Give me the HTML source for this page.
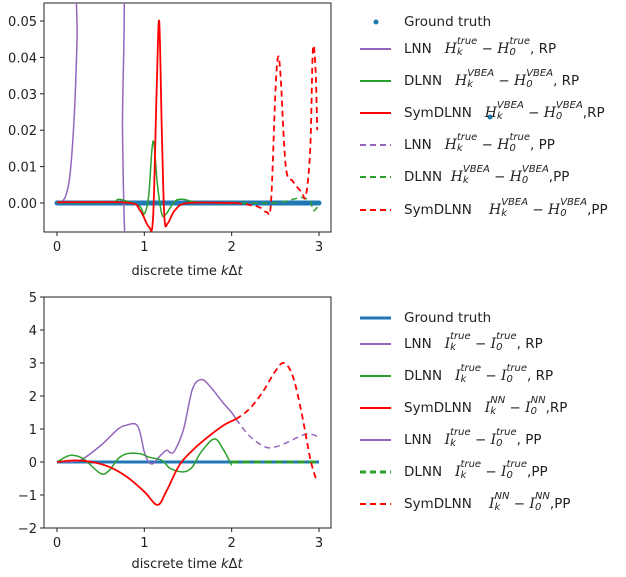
<!DOCTYPE html>
<html><head><meta charset="utf-8"><style>
body{margin:0;background:#fff;width:626px;height:572px;overflow:hidden;font-family:"Liberation Sans","DejaVu Sans",sans-serif}
svg text{font-family:"DejaVu Sans","Liberation Sans",sans-serif;font-size:13px;fill:#222}
.leg{position:absolute;font-family:"DejaVu Sans","Liberation Sans",sans-serif;font-size:13.5px;color:#222;white-space:nowrap;line-height:18px}
.leg i{font-family:"DejaVu Serif","Liberation Serif",serif;font-style:italic;font-size:14px}
.ss{display:inline-flex;flex-direction:column;vertical-align:middle;line-height:11px;font-size:10px;font-style:italic;font-family:"DejaVu Sans",sans-serif;margin-top:-4px}
.ss span{display:block}
</style></head><body>
<svg id="c" width="626" height="572"></svg>
<script>
const tickXLabels=["0","1","2","3"];
const topTickY=[0,0.01,0.02,0.03,0.04,0.05];
const topTickLabels=["0.00","0.01","0.02","0.03","0.04","0.05"];
const botTickY=[-2,-1,0,1,2,3,4,5];
const gtX=[0,3];
const gtY=[0,0];
// top chart series
const tLnnRpX=[0,0.05,0.1,0.15,0.2,0.23,0.26,0.73,0.75,0.77,0.79];
const tLnnRpY=[0,0.0003,0.002,0.008,0.025,0.045,0.07,0.07,0.02,-0.005,-0.012];
const tDlnnRpX=[0,0.6,0.7,0.8,0.95,1.0,1.05,1.1,1.15,1.2,1.25,1.35,1.45,1.6,2.0];
const tDlnnRpY=[0.0001,0.0002,0.001,0.0005,-0.001,-0.003,0.002,0.017,0.005,-0.003,-0.003,0.0005,0.001,0.0002,0];
const tSymRpX=[0,0.8,0.95,1.05,1.1,1.14,1.17,1.2,1.23,1.27,1.35,1.5,2.05];
const tSymRpY=[0.0002,0.0001,-0.002,-0.0065,-0.004,0.03,0.05,0.02,-0.004,-0.0055,-0.002,0,0];
const tSymPpX=[2.05,2.3,2.4,2.45,2.5,2.53,2.56,2.62,2.7,2.8,2.85,2.9,2.93,2.96,2.98];
const tSymPpY=[0,-0.001,-0.0025,0,0.03,0.04,0.035,0.01,0.006,0.003,0.002,0.015,0.042,0.037,0.02];
const tDlnnPpX=[2.0,2.5,2.7,2.8,2.9,2.93,2.97,3.0];
const tDlnnPpY=[0,0,0.001,0.0015,0.0005,-0.002,-0.0015,0];
// bottom chart series
const bLnnRpX=[0,0.2,0.3,0.5,0.7,0.8,0.9,0.95,1.0,1.05,1.1,1.15,1.25,1.3,1.35,1.45,1.55,1.65,1.75,1.9,2.0,2.05];
const bLnnRpY=[0,0.02,0.1,0.5,1.0,1.12,1.15,0.9,0.3,0,-0.05,0.1,0.35,0.28,0.35,1.0,2.2,2.5,2.3,1.8,1.5,1.3];
const bLnnPpX=[2.05,2.2,2.35,2.45,2.6,2.8,2.9,3.0];
const bLnnPpY=[1.3,0.8,0.5,0.43,0.55,0.8,0.85,0.75];
const bDlnnRpX=[0,0.15,0.3,0.5,0.6,0.7,0.8,0.95,1.05,1.2,1.3,1.45,1.55,1.65,1.8,1.9,2.0];
const bDlnnRpY=[0,0.2,0.1,-0.35,-0.25,0.1,0.25,0.25,0.15,0.05,-0.2,-0.3,-0.15,0.3,0.7,0.4,-0.1];
const bDlnnPpX=[2.0,3.0];
const bDlnnPpY=[0,0];
const bSymRpX=[0,0.2,0.4,0.6,0.8,1.0,1.15,1.25,1.4,1.55,1.7,1.9,2.05];
const bSymRpY=[0,0.05,0,-0.15,-0.45,-0.9,-1.3,-0.9,-0.1,0.35,0.7,1.1,1.3];
const bSymPpX=[2.05,2.2,2.35,2.5,2.6,2.7,2.8,2.9,2.97];
const bSymPpY=[1.3,1.6,2.1,2.75,3.0,2.6,1.5,0.1,-0.55];

const NS="http://www.w3.org/2000/svg";
const svg=document.getElementById('c');
function mk(t,a,p){const e=document.createElementNS(NS,t);for(const k in a)e.setAttribute(k,a[k]);(p||svg).appendChild(e);return e;}
const X=v=>57+v*87.33;
const Ty=v=>203-v*3640;
const By=v=>462-v*33;
const defs=mk('defs',{});
const c1=mk('clipPath',{id:'c1'},defs);mk('rect',{x:44,y:3,width:287,height:229},c1);
const c2=mk('clipPath',{id:'c2'},defs);mk('rect',{x:44,y:297,width:287,height:231},c2);
function axes(top,bot,yf,ticks,labels,name){
  const r=mk('rect',{x:44,y:top,width:287,height:bot-top,fill:'none',stroke:'#222','stroke-width':1});
  
  tickXLabels.forEach((l,i)=>{const x=X(i);mk('line',{x1:x,x2:x,y1:bot,y2:bot+4,stroke:'#222'});
    const t=mk('text',{x:x,y:bot+19,'text-anchor':'middle'});t.textContent=l;
    });
  ticks.forEach((v,i)=>{const y=yf(v);mk('line',{x1:40,x2:44,y1:y,y2:y,stroke:'#222'});
    const t=mk('text',{x:37,y:y+5,'text-anchor':'end'});t.textContent=labels[i];
    });
}
axes(3,232,Ty,topTickY,topTickLabels,'top');
axes(297,528,By,botTickY,botTickY.map(v=>v<0?'\u2212'+(-v):String(v)),'bottom');
function smooth(pts){
  if(pts.length<3)return 'M'+pts.map(p=>p.join(',')).join(' L');
  let d='M'+pts[0][0]+','+pts[0][1];
  for(let i=0;i<pts.length-1;i++){
    const p0=pts[i-1]||pts[i],p1=pts[i],p2=pts[i+1],p3=pts[i+2]||p2;
    const c1x=p1[0]+(p2[0]-p0[0])/6,c1y=p1[1]+(p2[1]-p0[1])/6;
    const c2x=p2[0]-(p3[0]-p1[0])/6,c2y=p2[1]-(p3[1]-p1[1])/6;
    d+=' C'+c1x+','+c1y+' '+c2x+','+c2y+' '+p2[0]+','+p2[1];
  }
  return d;
}
function line(xs,ys,yf,col,dash,w,clip,name){
  const pts=xs.map((x,i)=>[X(x),yf(ys[i])]);
  const p=mk('path',{d:smooth(pts),fill:'none',stroke:col,'stroke-width':w,'stroke-dasharray':dash||'none','clip-path':'url(#'+clip+')','stroke-linejoin':'round'});
  
}
const gt=mk('line',{x1:X(gtX[0]),x2:X(gtX[1]),y1:Ty(gtY[0]),y2:Ty(gtY[1]),stroke:'#1f77b4','stroke-width':5,'stroke-linecap':'round'});

line(tLnnRpX,tLnnRpY,Ty,'#9467bd',null,1.5,'c1','top-lnn-rp');
line(tDlnnRpX,tDlnnRpY,Ty,'#2ca02c',null,1.5,'c1','top-dlnn-rp');
line(tDlnnPpX,tDlnnPpY,Ty,'#2ca02c','6,4',1.5,'c1','top-dlnn-pp');
line(tSymRpX,tSymRpY,Ty,'#ff0000',null,1.8,'c1','top-symdlnn-rp');
line(tSymPpX,tSymPpY,Ty,'#ff0000','6,4',1.8,'c1','top-symdlnn-pp');
line(gtX,gtY,By,'#1f77b4',null,3,'c2','bottom-ground-truth');
line(bLnnRpX,bLnnRpY,By,'#9467bd',null,1.5,'c2','bottom-lnn-rp');
line(bLnnPpX,bLnnPpY,By,'#9467bd','6,4',1.5,'c2','bottom-lnn-pp');
line(bDlnnRpX,bDlnnRpY,By,'#2ca02c',null,1.5,'c2','bottom-dlnn-rp');
line(bDlnnPpX,bDlnnPpY,By,'#2ca02c','7,4',3,'c2','bottom-dlnn-pp');
line(bSymRpX,bSymRpY,By,'#ff0000',null,1.8,'c2','bottom-symdlnn-rp');
line(bSymPpX,bSymPpY,By,'#ff0000','6,4',1.8,'c2','bottom-symdlnn-pp');
[[275,'top-x-axis-title'],[568,'bottom-x-axis-title']].forEach(a=>{
  const t=mk('text',{x:187,y:a[0],'text-anchor':'middle','font-size':'14'});
  t.innerHTML='discrete time <tspan font-style="italic">k</tspan>Δ<tspan font-style="italic">t</tspan>';
  });
function lm(y,col,dash,w,name){const l=mk('line',{x1:360,x2:391,y1:y,y2:y,stroke:col,'stroke-width':w||2,'stroke-dasharray':dash||'none'});
 }
const dot=mk('circle',{cx:376,cy:22,r:2.5,fill:'#1f77b4'});
const dot2=mk('circle',{cx:490,cy:117,r:2.5,fill:'#1f77b4'});
lm(49,'#9467bd');lm(81,'#2ca02c');lm(113,'#ff0000');lm(145,'#9467bd','6,4');lm(177,'#2ca02c','6,4');lm(210,'#ff0000','6,4');
lm(318,'#1f77b4',null,3);lm(344,'#9467bd');lm(376,'#2ca02c');lm(408,'#ff0000');lm(440,'#9467bd');lm(472,'#2ca02c','6,4',3);lm(504,'#ff0000','6,4');
</script>
<div class="leg" style="left:404px;top:13px">Ground truth</div>
<div class="leg" style="left:404px;top:40px">LNN &nbsp; <i>H</i><span class="ss"><span>true</span><span>k</span></span> − <i>H</i><span class="ss"><span>true</span><span>0</span></span>, RP</div>
<div class="leg" style="left:404px;top:72px">DLNN &nbsp; <i>H</i><span class="ss"><span>VBEA</span><span>k</span></span> − <i>H</i><span class="ss"><span>VBEA</span><span>0</span></span>, RP</div>
<div class="leg" style="left:404px;top:104px">SymDLNN &nbsp;&nbsp;<i>H</i><span class="ss"><span>VBEA</span><span>k</span></span> − <i>H</i><span class="ss"><span>VBEA</span><span>0</span></span>,RP</div>
<div class="leg" style="left:404px;top:136px">LNN &nbsp; <i>H</i><span class="ss"><span>true</span><span>k</span></span> − <i>H</i><span class="ss"><span>true</span><span>0</span></span>, PP</div>
<div class="leg" style="left:404px;top:168px">DLNN &nbsp;<i>H</i><span class="ss"><span>VBEA</span><span>k</span></span> − <i>H</i><span class="ss"><span>VBEA</span><span>0</span></span>,PP</div>
<div class="leg" style="left:404px;top:201px">SymDLNN &nbsp; &nbsp;<i>H</i><span class="ss"><span>VBEA</span><span>k</span></span> − <i>H</i><span class="ss"><span>VBEA</span><span>0</span></span>,PP</div>
<div class="leg" style="left:404px;top:309px">Ground truth</div>
<div class="leg" style="left:404px;top:335px">LNN &nbsp; <i>I</i><span class="ss"><span>true</span><span>k</span></span> − <i>I</i><span class="ss"><span>true</span><span>0</span></span>, RP</div>
<div class="leg" style="left:404px;top:367px">DLNN &nbsp; <i>I</i><span class="ss"><span>true</span><span>k</span></span> − <i>I</i><span class="ss"><span>true</span><span>0</span></span>, RP</div>
<div class="leg" style="left:404px;top:399px">SymDLNN &nbsp; <i>I</i><span class="ss"><span>NN</span><span>k</span></span> − <i>I</i><span class="ss"><span>NN</span><span>0</span></span>,RP</div>
<div class="leg" style="left:404px;top:431px">LNN &nbsp; <i>I</i><span class="ss"><span>true</span><span>k</span></span> − <i>I</i><span class="ss"><span>true</span><span>0</span></span>, PP</div>
<div class="leg" style="left:404px;top:463px">DLNN &nbsp; <i>I</i><span class="ss"><span>true</span><span>k</span></span> − <i>I</i><span class="ss"><span>true</span><span>0</span></span>,PP</div>
<div class="leg" style="left:404px;top:495px">SymDLNN &nbsp; &nbsp;<i>I</i><span class="ss"><span>NN</span><span>k</span></span> − <i>I</i><span class="ss"><span>NN</span><span>0</span></span>,PP</div>
</body></html>
